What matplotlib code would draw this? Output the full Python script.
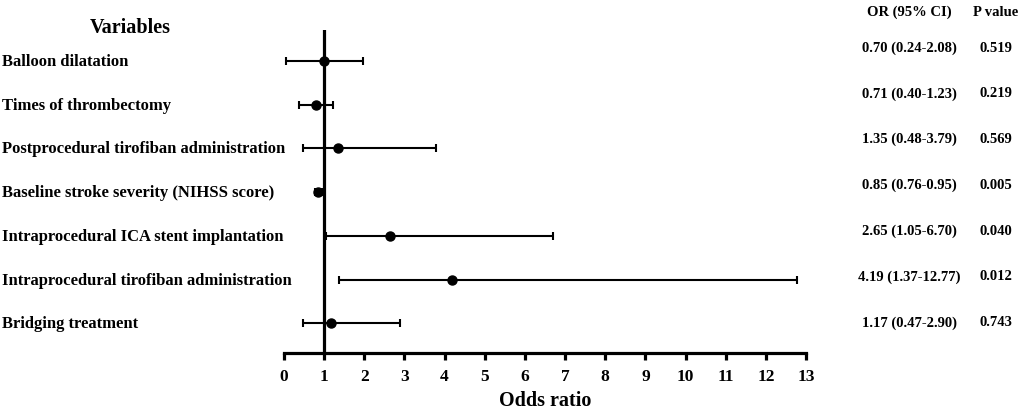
import matplotlib
matplotlib.use("Agg")
import matplotlib.pyplot as plt
from matplotlib.transforms import blended_transform_factory

variables = ["Balloon dilatation", "Times of thrombectomy",
             "Postprocedural tirofiban administration",
             "Baseline stroke severity (NIHSS score)",
             "Intraprocedural ICA stent implantation",
             "Intraprocedural tirofiban administration",
             "Bridging treatment"]
odds = [1.00, 0.79, 1.35, 0.85, 2.65, 4.19, 1.17]
ci_low = [0.05, 0.37, 0.48, 0.76, 1.05, 1.37, 0.47]
ci_high = [1.97, 1.21, 3.79, 0.95, 6.70, 12.77, 2.90]
or_text = ["0.70 (0.24-2.08)", "0.71 (0.40-1.23)", "1.35 (0.48-3.79)",
           "0.85 (0.76-0.95)", "2.65 (1.05-6.70)", "4.19 (1.37-12.77)",
           "1.17 (0.47-2.90)"]
p_text = ["0.519", "0.219", "0.569", "0.005", "0.040", "0.012", "0.743"]
xticks = list(range(0, 14))

plt.rcParams['font.family'] = ['Liberation Serif', 'DejaVu Serif']
plt.rcParams['font.weight'] = 'bold'

W, H = 1023, 414
fig = plt.figure(figsize=(W / 100, H / 100), dpi=100)
ax = fig.add_axes([284 / W, 1 - 354 / H, 522 / W, 323 / H])

rows = list(range(len(variables)))
lo_err = [o - l for o, l in zip(odds, ci_low)]
hi_err = [h - o for o, h in zip(odds, ci_high)]
ax.errorbar(odds, rows, xerr=[lo_err, hi_err], fmt='o', color='black',
            ecolor='black', elinewidth=1.5, capsize=3.2, capthick=1.5,
            markersize=6.5, zorder=3)
ax.axvline(1, color='black', linewidth=2.3, zorder=2)

ax.set_xlim(0, 13)
ax.set_ylim(6.68, -0.71)
ax.set_xticks(xticks)
ax.set_xticklabels([str(t) for t in xticks], fontsize=12.5, fontweight='bold')
ax.set_yticks([])
for s in ['left', 'right', 'top']:
    ax.spines[s].set_visible(False)
ax.spines['bottom'].set_linewidth(2.3)
ax.tick_params(axis='x', direction='out', length=5.3, width=2.3, pad=5.5)
ax.set_xlabel("Odds ratio", fontsize=14.5, fontweight='bold', labelpad=4)

tr = blended_transform_factory(fig.transFigure, ax.transData)
for i, v in enumerate(variables):
    ax.text(2 / W, i, v, transform=tr, ha='left', va='center',
            fontsize=12, fontweight='bold')

fig.text(130 / W, 1 - 28 / H, "Variables", ha='center', va='center',
         fontsize=14.5, fontweight='bold')
fig.text(909 / W, 1 - 12 / H, "OR (95% CI)", ha='center', va='center',
         fontsize=10.5, fontweight='bold')
fig.text(996 / W, 1 - 12 / H, "P value", ha='center', va='center',
         fontsize=10.5, fontweight='bold')
for i, (o, p) in enumerate(zip(or_text, p_text)):
    ypx = 48 + i * 45.8
    fig.text(909 / W, 1 - ypx / H, o, ha='center', va='center',
             fontsize=10.5, fontweight='bold')
    fig.text(996 / W, 1 - ypx / H, p, ha='center', va='center',
             fontsize=10.5, fontweight='bold')

fig.savefig("out.png", dpi=100)
